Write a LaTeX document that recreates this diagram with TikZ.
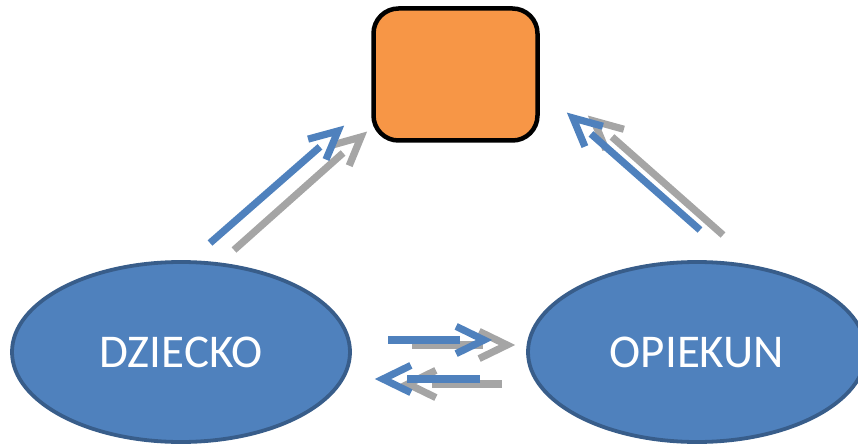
\documentclass[tikz,border=0pt]{standalone}
\usepackage{fontspec}
\setmainfont{Carlito}
\usetikzlibrary{shapes.geometric,calc}
\definecolor{oblue}{HTML}{4F81BD}
\definecolor{oblueline}{HTML}{385D8A}
\definecolor{ogray}{HTML}{A5A5A5}
\definecolor{oorange}{HTML}{F79646}
\tikzset{
  bluearr/.style={draw=oblue,line width=7.2pt},
  grayarr/.style={draw=ogray,line width=7.2pt},
  oval/.style={ellipse,draw=oblueline,line width=3.8pt,fill=oblue,minimum width=338pt,minimum height=180pt,inner sep=0pt,text=white,font=\fontsize{47}{52}\selectfont},
  goalbox/.style={draw=black,line width=4.5pt,fill=oorange,rounded corners=25pt,minimum width=164pt,minimum height=132pt,inner sep=0pt}
}
\newcommand\oarrow[3]{%
  \draw[#1,line cap=butt] (#2) -- ($(#3)!24pt!(#2)$);
  \draw[#1,line cap=butt,line join=miter] ($(#3)!31pt!26:(#2)$) -- (#3) -- ($(#3)!31pt!-26:(#2)$);
}
\begin{document}
\begin{tikzpicture}[x=1pt,y=-1pt]
\useasboundingbox (0,0) rectangle (858,446);
\clip (0,0) rectangle (858,446);
\node[goalbox] (goal) at (455.5,74.5) {};
\node[oval] (child) at (181,352) {\raisebox{-3pt}{DZIECKO}};
\node[oval] (carer) at (697,352) {\raisebox{-3pt}{OPIEKUN}};
% coordinates
\coordinate (gulS) at (234,250); \coordinate (gulT) at (361,137);
\coordinate (bulS) at (210,243); \coordinate (bulT) at (338,131);
\coordinate (gurS) at (723,235); \coordinate (gurT) at (594,121);
\coordinate (burS) at (700,230); \coordinate (burT) at (573,118);
\coordinate (gmtS) at (412,345); \coordinate (gmtT) at (507,345);
\coordinate (bmtS) at (388,340); \coordinate (bmtT) at (484,340);
\coordinate (gmbS) at (502,384); \coordinate (gmbT) at (408,384);
\coordinate (bmbS) at (480,379); \coordinate (bmbT) at (383,379);
\oarrow{grayarr}{gulS}{gulT}
\oarrow{bluearr}{bulS}{bulT}
\oarrow{grayarr}{gurS}{gurT}
\oarrow{bluearr}{burS}{burT}
\oarrow{grayarr}{gmtS}{gmtT}
\oarrow{bluearr}{bmtS}{bmtT}
\oarrow{grayarr}{gmbS}{gmbT}
\oarrow{bluearr}{bmbS}{bmbT}
\end{tikzpicture}
\end{document}
